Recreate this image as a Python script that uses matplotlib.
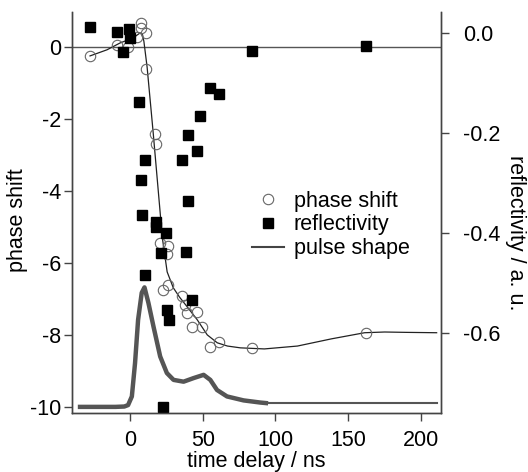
import matplotlib
matplotlib.use('Agg')
import matplotlib.pyplot as plt
from matplotlib.lines import Line2D

plt.rcParams['font.family'] = ['Liberation Sans', 'DejaVu Sans']
plt.rcParams['axes.unicode_minus'] = False

# phase shift (open circles)
phase_t = [-27.6, -9.0, -1.4, 7.6, 7.6, 11.0, 4.8, 11.0, 17.2, 17.9, 20.7, 26.2, 25.5,
           26.2, 22.8, 35.9, 37.9, 39.3, 46.2, 42.8, 49.7, 55.2, 61.4, 84.1, 162.1]
phase_v = [-0.25, 0.06, 0.0, 0.67, 0.53, 0.39, 0.28, -0.61, -2.42, -2.69, -5.44, -5.53, -5.75,
           -6.61, -6.75, -6.92, -7.17, -7.39, -7.36, -7.78, -7.78, -8.33, -8.19, -8.36, -7.94]

# fit through the phase shift
fit_t = [-27.6, -15.9, -6.9, 2.1, 6.9, 8.5, 9.5, 11.7, 15.9, 20.7, 22.1, 25.5, 29.7, 34.0,
         39.3, 46.2, 53.1, 60.0, 67.0, 75.9, 92.4, 115.2, 138.6, 161.4, 175.2, 190.0, 211.0]
fit_v = [-0.25, -0.08, 0.11, 0.25, 0.39, 0.35, 0.15, -0.56, -2.39, -4.61, -5.28, -6.25, -6.69,
         -6.95, -7.22, -7.58, -8.0, -8.22, -8.31, -8.36, -8.39, -8.31, -8.11, -7.94, -7.92,
         -7.93, -7.94]

# reflectivity (filled squares, right axis)
refl_t = [-27.6, -9.0, -0.7, 0.0, -4.8, 6.2, 10.3, 7.6, 8.3, 17.9, 17.9, 24.8, 35.9, 40.0,
          40.0, 46.2, 48.3, 55.2, 61.4, 84.1, 162.1, 21.4, 38.6, 10.3, 42.8, 25.5, 26.9, 22.8]
refl_v = [0.012, 0.002, 0.008, -0.010, -0.038, -0.138, -0.254, -0.294, -0.364, -0.378, -0.388,
          -0.400, -0.254, -0.204, -0.336, -0.236, -0.166, -0.110, -0.122, -0.036, -0.026,
          -0.440, -0.438, -0.484, -0.534, -0.554, -0.574, -0.748]

# pulse shape
pulse_t = [-36, -10, -4, -1.4, 1.2, 3.4, 5.5, 8.0, 9.9, 12.6, 16.1, 20.7, 25.3, 29.9, 36.8,
           43.7, 50.6, 55.2, 59.8, 66.7, 78.1, 89.7, 95.0]
pulse_v = [-10.0, -10.0, -9.99, -9.95, -9.71, -8.78, -7.58, -6.83, -6.68, -7.11, -7.77, -8.6,
           -9.06, -9.25, -9.30, -9.20, -9.11, -9.25, -9.53, -9.71, -9.82, -9.88, -9.9]
tail_t = [95, 211]
tail_v = [-9.9, -9.9]

fs = 15.5
fig = plt.figure(figsize=(5.28, 4.72), dpi=100)
ax = fig.add_axes([72/528, 1-413/472, 369/528, 401/472])
ax2 = ax.twinx()

grey = '#444444'
ax.axhline(0, color='#555555', lw=1.0)
ax.plot(pulse_t, pulse_v, color='#555555', lw=3.2, solid_capstyle='butt')
ax.plot(tail_t, tail_v, color='#555555', lw=1.5)
ax.plot(fit_t, fit_v, color='#222222', lw=0.9)
ax.plot(phase_t, phase_v, 'o', ms=7.5, mfc='none', mec='#666666', mew=0.8)
ax2.plot(refl_t, refl_v, 's', ms=7.5, color='black')

ax.set_xlim(-40, 214)
ax.set_ylim(-10.17, 0.97)
ax2.set_ylim(-0.76, 0.042)

ax.set_xticks([0, 50, 100, 150, 200])
ax.set_yticks([0, -2, -4, -6, -8, -10])
ax2.set_yticks([0.0, -0.2, -0.4, -0.6])
ax2.set_yticklabels(['0.0', '-0.2', '-0.4', '-0.6'])

for a in (ax, ax2):
    a.spines['top'].set_visible(False)
    for s in a.spines.values():
        s.set_color(grey)
        s.set_linewidth(1.0)
    a.tick_params(direction='out', length=6, width=1.0, color=grey, labelsize=fs)
ax.tick_params(axis='x', pad=6)
ax.tick_params(axis='y', pad=1.5)
ax2.tick_params(axis='y', pad=10)

ax.set_xlabel('time delay / ns', fontsize=fs, labelpad=0)
ax.set_ylabel('phase shift', fontsize=fs, va='center')
ax.yaxis.set_label_coords(-0.149, 0.48)
ax2.set_ylabel('reflectivity / a. u.', fontsize=fs, rotation=270, va='center')
ax2.yaxis.set_label_coords(1.203, 0.45)

handles = [Line2D([], [], ls='none', marker='o', ms=7.5, mfc='none', mec='#666666', mew=0.8),
           Line2D([], [], ls='none', marker='s', ms=7.5, color='black'),
           Line2D([], [], color='#444444', lw=1.5)]
fig.legend(handles, ['phase shift', 'reflectivity', 'pulse shape'], loc='center left',
           bbox_to_anchor=(252/528, 1-225/472), frameon=False, fontsize=fs,
           handlelength=1.5, handletextpad=0.45, labelspacing=0.12,
           borderpad=0, borderaxespad=0)

fig.savefig('out.png', dpi=100)
